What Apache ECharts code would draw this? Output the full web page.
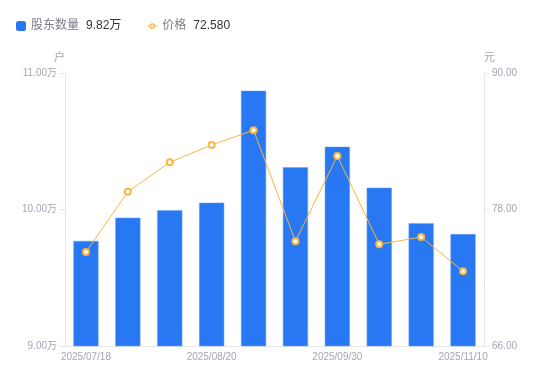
<!DOCTYPE html>
<html>
<head>
<meta charset="utf-8">
<script src="https://cdn.jsdelivr.net/npm/echarts@6/dist/echarts.min.js"></script>
<style>html,body{margin:0;padding:0;background:#fff}#c{width:550px;height:381px}</style>
</head>
<body>
<div id="c"></div>
<script>
const categories = ['2025/07/18','2025/07/31','2025/08/10','2025/08/20','2025/08/31','2025/09/10','2025/09/30','2025/10/20','2025/10/31','2025/11/10'];
const holders = [97700, 99400, 99950, 100500, 108700, 103100, 104600, 101600, 99000, 98200];
const prices = [74.26, 79.55, 82.15, 83.67, 84.97, 75.20, 82.70, 74.94, 75.58, 72.58];
const leftTicks = [90000, 100000, 110000];
const rightTicks = [66, 78, 90];

const labelColor = '#a3a6b4';
const lineColor = '#e6e6e6';
const chart = echarts.init(document.getElementById('c'));
const latest = {
  '股东数量': (holders[holders.length-1]/10000).toFixed(2) + '万',
  '价格': prices[prices.length-1].toFixed(3)
};
const lineIcon = 'path://M0,4.4H2.6V5.6H0Z M7.4,4.4H10V5.6H7.4Z M5,2.2A2.8,2.8 0 1 1 4.99,2.2Z M5,3.6A1.4,1.4 0 1 0 5.01,3.6Z';
chart.setOption({
  animation: false,
  textStyle: {fontFamily: 'Arial, "Noto Sans CJK SC", sans-serif'},
  legend: {
    left: 11, top: 15,
    itemWidth: 10, itemHeight: 10, itemGap: 26,
    formatter: n => '{n|' + n + '}{v|' + latest[n] + '}',
    textStyle: {
      rich: {
        n: {fontSize: 12, color: '#7a7d89'},
        v: {fontSize: 12, color: '#333', padding: [0,0,0,7]}
      }
    },
    data: [
      {name:'股东数量', icon:'roundRect', itemStyle: {color: '#2878f4', borderWidth: 0}},
      {name:'价格', icon: lineIcon, itemStyle: {color: '#f8b540', borderWidth: 0}}
    ]
  },
  grid: {left: 65, right: 66, top: 73, bottom: 35},
  xAxis: {
    type: 'category', data: categories,
    axisLine: {lineStyle: {color: lineColor}},
    axisTick: {show: false},
    axisLabel: {interval: 2, color: labelColor, fontSize: 10, margin: 6}
  },
  yAxis: [{
    type: 'value', min: leftTicks[0], max: leftTicks[2], interval: 10000,
    name: '户', nameGap: 10,
    nameTextStyle: {color: labelColor, fontSize: 11, align: 'right'},
    axisLine: {show: true, lineStyle: {color: lineColor}},
    axisTick: {show: true, length: 5, lineStyle: {color: lineColor}},
    splitLine: {show: false},
    axisLabel: {color: labelColor, fontSize: 10, formatter: v => (v/10000).toFixed(2) + '万'}
  }, {
    type: 'value', min: rightTicks[0], max: rightTicks[2], interval: 12,
    name: '元', nameGap: 10,
    nameTextStyle: {color: labelColor, fontSize: 11, align: 'left'},
    axisLine: {show: true, lineStyle: {color: lineColor}},
    axisTick: {show: true, length: 5, lineStyle: {color: lineColor}},
    splitLine: {show: false},
    axisLabel: {color: labelColor, fontSize: 10, formatter: v => v.toFixed(2)}
  }],
  series: [{
    name: '股东数量', type: 'bar', data: holders, barWidth: '60%',
    itemStyle: {color: '#2878f4', borderColor: '#6ea2f5', borderWidth: 0.5}
  }, {
    name: '价格', type: 'line', yAxisIndex: 1, data: prices,
    symbol: 'emptyCircle', symbolSize: 6,
    lineStyle: {color: '#f8b540', width: 1},
    itemStyle: {color: '#f8b540', borderWidth: 2}
  }]
});
</script>
</body>
</html>
